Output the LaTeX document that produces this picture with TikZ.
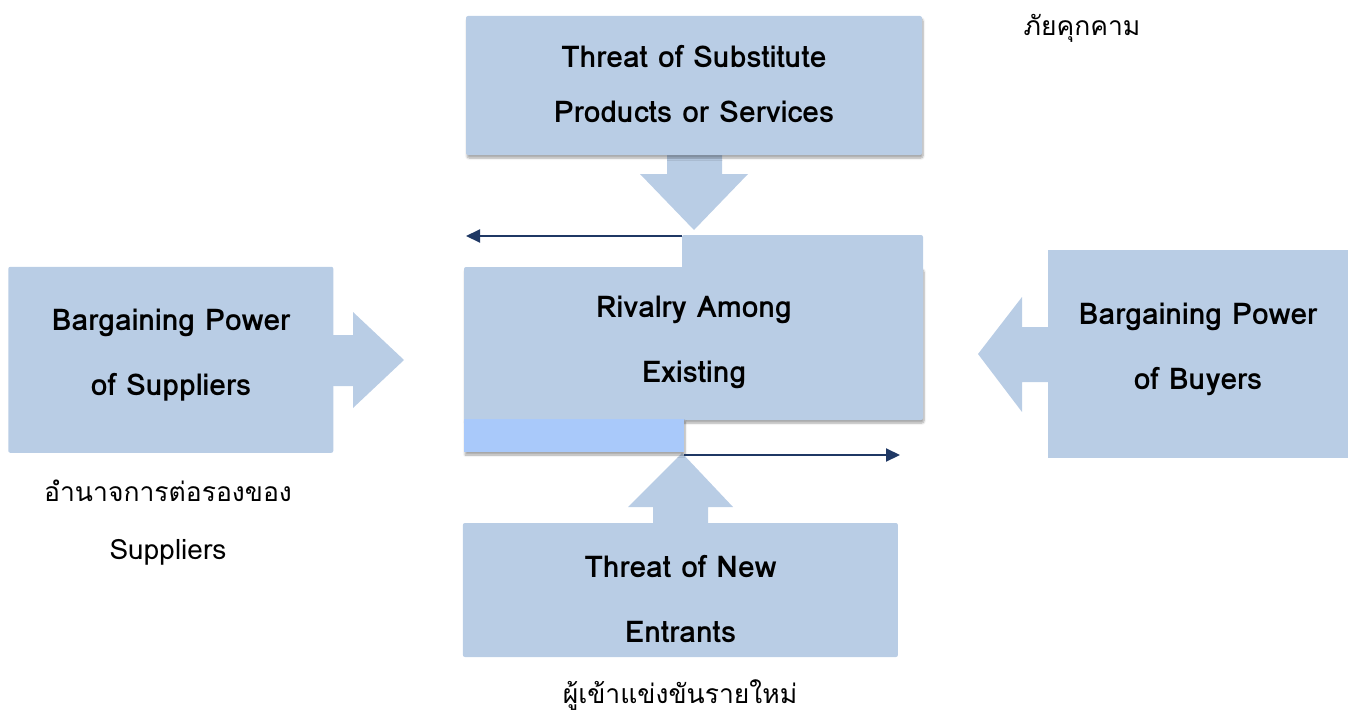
\documentclass[tikz,border=0pt]{standalone}
\usepackage{fontspec}
\setmainfont{Loma}[Script=Thai]
\newfontfamily\thaifont[Script=Thai]{Loma}
\usetikzlibrary{arrows.meta,shadows.blur}
\definecolor{boxblue}{HTML}{B9CDE5}
\definecolor{tabblue}{HTML}{A9C9FA}
\definecolor{navy}{HTML}{1F3864}
\tikzset{
  box/.style={fill=boxblue, draw=none, rounded corners=2pt},
  shbox/.style={box, blur shadow={shadow xshift=1pt, shadow yshift=-3pt, shadow blur steps=6, shadow opacity=35}},
  blockarrow/.style={fill=boxblue, draw=none},
  lbl/.style={align=center, font=\bfseries\fontsize{30}{65}\selectfont, inner sep=0pt},
  thai/.style={align=center, font=\thaifont\fontsize{26.5}{58}\selectfont, inner sep=0pt},
  navyarrow/.style={draw=navy, line width=2pt, -{Triangle[length=14pt,width=13pt]}}
}
\begin{document}
\begin{tikzpicture}[x=1pt,y=-1pt]
\useasboundingbox (0,0) rectangle (1354,717);
% block arrows
\fill[blockarrow] (667,150) -- (722,150) -- (722,174) -- (748,174) -- (694,230) -- (640,174) -- (667,174) -- cycle;
\fill[blockarrow] (330,335) -- (353,335) -- (353,312) -- (404,360) -- (353,408) -- (353,386) -- (330,386) -- cycle;
\fill[blockarrow] (1052,327) -- (1022,327) -- (1022,297) -- (978,354) -- (1022,412) -- (1022,382) -- (1052,382) -- cycle;
\fill[blockarrow] (653,526) -- (653,507) -- (628,507) -- (682,453) -- (733,507) -- (708,507) -- (708,526) -- cycle;
% boxes
\node[shbox, minimum width=456pt, minimum height=139pt] (subst) at (694,85.5) {};
\node[box, minimum width=325pt, minimum height=186pt] (supp) at (170.8,359.8) {};
\node[box, minimum width=300pt, minimum height=208pt, rounded corners=0pt] (buy) at (1198.3,354) {};
\node[box, minimum width=435pt, minimum height=134pt] (newent) at (680.4,590) {};
\node[shbox, minimum width=459pt, minimum height=153pt] (rival) at (693.5,343.5) {};
\fill[tabblue, blur shadow={shadow xshift=1pt, shadow yshift=-3pt, shadow blur steps=6, shadow opacity=35}] (464,419) rectangle (684,452);
\fill[boxblue, rounded corners=2pt] (682,235) rectangle (923,272);
\fill[boxblue] (682,260) rectangle (923,280);
% labels
\node[lbl] (t1) at (694,84.5) {Threat of Substitute\\[-10pt]Products or Services};
\node[lbl] (t2) at (694,342.5) {Rivalry Among\\Existing};
\node[lbl] (t3) at (171,355) {Bargaining Power\\of Suppliers};
\node[lbl] (t4) at (1198,349) {Bargaining Power\\of Buyers};
\node[lbl] (t5) at (680.5,598.5) {Threat of New\\Entrants};
\node[thai] (h1) at (1082,28) {ภัยคุกคาม};
\node[thai] (h2) at (168,523) {อำนาจการต่อรองของ\\{\fontsize{28}{58}\selectfont Suppliers}};
\node[thai] (h3) at (680,695) {ผู้เข้าแข่งขันรายใหม่};
% thin arrows
\coordinate (a1s) at (682,236);
\coordinate (a1e) at (466,236);
\coordinate (a2s) at (684,455);
\coordinate (a2e) at (900,455);
\draw[navyarrow] (a1s) -- (a1e);
\draw[navyarrow] (a2s) -- (a2e);
\end{tikzpicture}
\end{document}
